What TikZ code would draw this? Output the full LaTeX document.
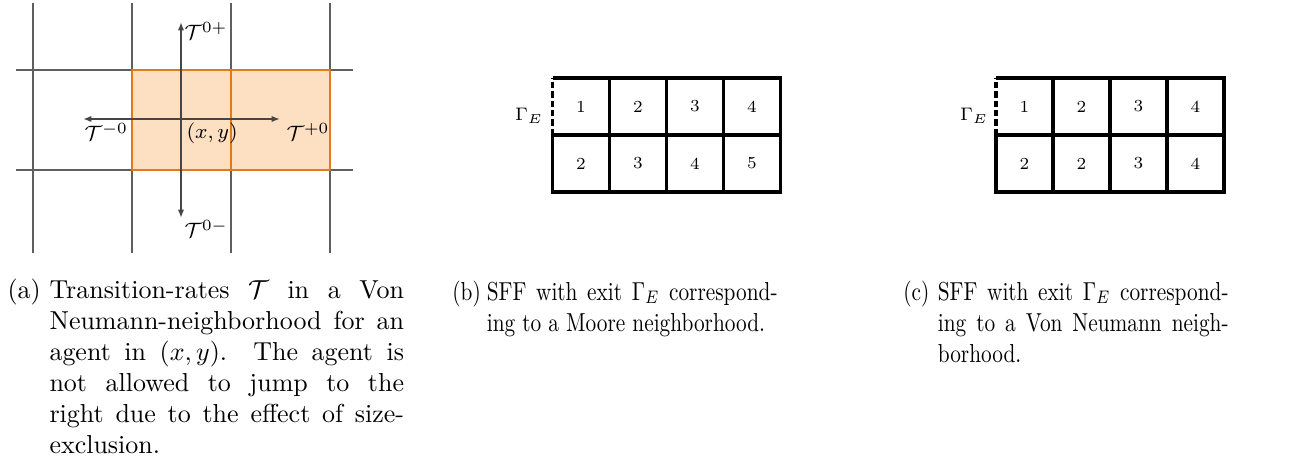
\documentclass[tikz,border=0pt]{standalone}
\IfFileExists{fix-cm.sty}{\usepackage{fix-cm}}{}
\usetikzlibrary{arrows.meta}
\definecolor{peach}{RGB}{253,223,193}
\definecolor{orangeline}{RGB}{222,122,32}
\definecolor{gridgray}{RGB}{95,95,95}
\definecolor{arrowgray}{RGB}{70,70,70}
\newcommand{\capsetup}{\hyphenpenalty=10000\relax\exhyphenpenalty=10000\relax\tolerance=10000\relax}
\begin{document}
\begin{tikzpicture}[x=0.385pt,y=-0.385pt,
  gridline/.style={gridgray,line width=0.75pt},
  orangeborder/.style={orangeline,line width=0.9pt},
  rate/.style={arrowgray,line width=0.6pt,{Latex[length=3.2pt,width=2.4pt]}-{Latex[length=3.2pt,width=2.4pt]}},
  ratelabel/.style={anchor=west,inner sep=0pt,font=\fontsize{8}{9.6}\selectfont},
  sff/.style={line width=1.2pt},
  sffdash/.style={line width=1.2pt,dash pattern=on 2.4pt off 1.2pt},
  num/.style={inner sep=0pt,font=\fontsize{6.5}{7.8}\selectfont},
  exitlabel/.style={anchor=base,inner sep=0pt,font=\fontsize{7}{8.4}\selectfont},
  caplabel/.style={anchor=base west,inner sep=0pt,font=\fontsize{10}{12}\selectfont},
  captext/.style={anchor=base west,inner sep=0pt,align=justify,text width=136.5pt,
    font=\fontsize{10}{12}\selectfont\capsetup},
]
\useasboundingbox (0,0) rectangle (1305,467);

% ---------- panel (a) ----------
\fill[peach] (132,70) rectangle (330,170);
\foreach \x in {33,132,231,330} \draw[gridline] (\x,3) -- (\x,253);
\foreach \y in {70,170} \draw[gridline] (16,\y) -- (353,\y);
\draw[orangeborder] (132,70) rectangle (330,170);
\draw[orangeborder] (231,70) -- (231,170);

\coordinate (up) at (181,22);
\coordinate (down) at (181,218);
\coordinate (left) at (83,119);
\coordinate (right) at (280,119);
\draw[rate] (down) -- (up);
\draw[rate] (left) -- (right);

\node[ratelabel] (tup) at (184,31) {$\mathcal{T}^{0+}$};
\node[ratelabel] (tdown) at (184,229) {$\mathcal{T}^{0-}$};
\node[ratelabel] (tleft) at (84,132) {$\mathcal{T}^{-0}$};
\node[ratelabel] (tright) at (286,132) {$\mathcal{T}^{+0}$};
\node[ratelabel] (xy) at (186,133) {$(x,y)$};

% ---------- panel (b) ----------
\begin{scope}[shift={(552.5,0)}]
  \draw[sff] (0,78) -- (228,78) -- (228,192) -- (0,192) -- (0,135);
  \draw[sffdash] (0,135) -- (0,78);
  \draw[sff] (0,135) -- (228,135);
  \foreach \x in {57,114,171} \draw[sff] (\x,78) -- (\x,192);
  \node[num] (b11) at (28.5,106.5) {1};
  \node[num] (b12) at (85.5,106.5) {2};
  \node[num] (b13) at (142.5,106.5) {3};
  \node[num] (b14) at (199.5,106.5) {4};
  \node[num] (b21) at (28.5,163.5) {2};
  \node[num] (b22) at (85.5,163.5) {3};
  \node[num] (b23) at (142.5,163.5) {4};
  \node[num] (b24) at (199.5,163.5) {5};
  \node[exitlabel] (bexit) at (-23.5,121) {$\Gamma_E$};
\end{scope}

% ---------- panel (c) ----------
\begin{scope}[shift={(996,0)}]
  \draw[sff] (0,78) -- (228,78) -- (228,192) -- (0,192) -- (0,135);
  \draw[sffdash] (0,135) -- (0,78);
  \draw[sff] (0,135) -- (228,135);
  \foreach \x in {57,114,171} \draw[sff] (\x,78) -- (\x,192);
  \node[num] (c11) at (28.5,106.5) {1};
  \node[num] (c12) at (85.5,106.5) {2};
  \node[num] (c13) at (142.5,106.5) {3};
  \node[num] (c14) at (199.5,106.5) {4};
  \node[num] (c21) at (28.5,163.5) {2};
  \node[num] (c22) at (85.5,163.5) {2};
  \node[num] (c23) at (142.5,163.5) {3};
  \node[num] (c24) at (199.5,163.5) {4};
  \node[exitlabel] (cexit) at (-22,121) {$\Gamma_E$};
\end{scope}

% ---------- captions ----------
\node[caplabel] (capa) at (7,298) {(a)};
\node[captext] (texta) at (49,298) {Transition-rates $\mathcal{T}$ in a Von\linebreak
Neumann-neighborhood for an\linebreak
agent in $(x,y)$. The agent is\linebreak
not allowed to jump to the\linebreak
right due to the effect of size-\linebreak
exclusion.};

\begin{scope}[shift={(452,300)},xscale=0.82,transform shape]
\node[caplabel] (capb) at (0,0) {(b)};
\node[captext] (textb) at (42,0) {SFF with exit $\Gamma_E$ correspond-\linebreak
ing to a Moore neighborhood.};
\end{scope}

\begin{scope}[shift={(903,300)},xscale=0.82,transform shape]
\node[caplabel] (capc) at (0,0) {(c)};
\node[captext] (textc) at (42,0) {SFF with exit $\Gamma_E$ correspond-\linebreak
ing to a Von Neumann neigh-\linebreak
borhood.};
\end{scope}
\end{tikzpicture}
\end{document}
